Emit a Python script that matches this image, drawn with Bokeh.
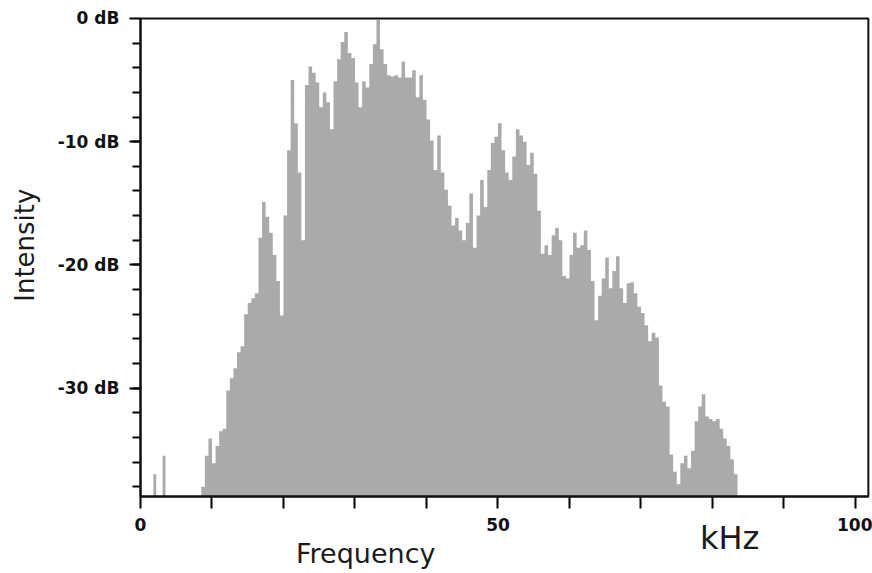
import numpy as np
from bokeh.plotting import figure
from bokeh.models import FixedTicker, Label, Range1d, BoxAnnotation
from bokeh.embed import file_html
from bokeh.resources import INLINE

# ---- data ----
spike_khz = [1.8, 3.1]          # left edge of isolated low-frequency bins
spike_db = [-37.0, -35.5]

spectrum_start_khz = 8.5        # left edge of first bin of the main spectrum
bin_khz = 0.5
spectrum_db = [
    -38.0, -35.5, -34.1, -36.1, -34.7, -33.5, -33.3, -30.2, -29.2, -28.4,
    -27.1, -26.6, -24.0, -23.1, -22.7, -22.3, -17.8, -14.9, -16.1, -17.4,
    -19.2, -21.3, -24.1, -16.0, -10.7, -5.0, -8.5, -12.5, -18.0, -5.4,
    -3.9, -4.4, -5.2, -7.2, -6.0, -6.8, -9.0, -5.1, -3.3, -1.9,
    -1.1, -2.8, -3.2, -5.2, -7.2, -5.1, -5.6, -3.7, -2.1, -0.1,
    -2.5, -3.7, -4.6, -4.7, -4.6, -4.8, -3.5, -4.8, -4.8, -4.2,
    -6.4, -4.6, -6.6, -8.2, -9.9, -12.3, -9.5, -12.5, -13.9, -15.2,
    -16.8, -16.2, -17.2, -18.0, -16.6, -14.2, -18.6, -16.0, -13.1, -15.3,
    -12.3, -10.1, -9.6, -8.5, -10.7, -12.5, -13.1, -11.2, -9.0, -9.5,
    -10.0, -11.9, -10.9, -12.6, -15.6, -19.1, -18.4, -19.2, -17.6, -17.0,
    -18.0, -20.9, -21.1, -19.2, -17.4, -18.6, -18.4, -17.2, -18.8, -21.3,
    -24.5, -22.5, -21.1, -19.4, -21.9, -20.5, -19.3, -21.9, -23.1, -21.5,
    -21.4, -22.3, -23.4, -23.9, -24.9, -26.2, -25.5, -25.9, -29.8, -31.1,
    -31.5, -35.4, -36.8, -37.8, -36.1, -35.5, -36.5, -35.1, -32.7, -31.5,
    -30.5, -32.3, -32.5, -32.7, -32.5, -33.3, -34.1, -34.7, -35.8, -37.0,
]

y_ticks = [0, -10, -20, -30]
y_tick_labels = ["0 dB", "-10 dB", "-20 dB", "-30 dB"]
y_minor_ticks = list(range(-38, 0, 2))
x_ticks = list(range(0, 101, 10))
x_tick_labels = {0: "0", 50: "50", 100: "100"}

# plotting box (kHz, dB) and the canvas extent around it
BOX_X = (0.0, 101.8)
BOX_Y = (-38.8, 0.0)
VIEW_X = (-19.58, 102.38)
VIEW_Y = (-45.05, 1.46)

GRAY = "#aaaaaa"
FONT = "DejaVu Sans"

p = figure(width=872, height=573,
           x_range=Range1d(*VIEW_X), y_range=Range1d(*VIEW_Y),
           output_backend="svg", toolbar_location=None, min_border=0)
p.xgrid.visible = False
p.ygrid.visible = False
p.background_fill_color = "white"
p.border_fill_color = "white"
p.outline_line_color = None

FLOOR = BOX_Y[0]

# main spectrum as a stepped area built from the bins
n = len(spectrum_db)
edges = spectrum_start_khz + bin_khz * np.arange(n + 1)
px = [edges[0]]
py = [FLOOR]
for i in range(n):
    px += [edges[i], edges[i + 1]]
    py += [spectrum_db[i], spectrum_db[i]]
px.append(edges[-1])
py.append(FLOOR)
p.patch(px, py, fill_color=GRAY, line_color=None)

p.quad(left=spike_khz, right=[k + 0.4 for k in spike_khz],
       bottom=FLOOR, top=spike_db, fill_color=GRAY, line_color=None)

# frame border (top & right sides; left & bottom are the axes)
p.add_layout(BoxAnnotation(left=BOX_X[0], right=BOX_X[1],
                           bottom=BOX_Y[0], top=BOX_Y[1],
                           fill_alpha=0, line_color="#111111",
                           line_alpha=1.0, line_width=2))

# axes placed on the box edges
for ax in (p.xaxis[0], p.yaxis[0]):
    ax.axis_line_width = 2
    ax.axis_line_color = "black"
    ax.major_tick_line_width = 2
    ax.major_tick_line_color = "black"
    ax.major_tick_in = 0
    ax.major_label_text_font = FONT
    ax.major_label_text_font_style = "bold"
    ax.major_label_text_font_size = "17px"
    ax.major_label_text_color = "#111111"
    ax.major_label_standoff = 10

p.yaxis.fixed_location = BOX_X[0]
p.yaxis.bounds = BOX_Y
p.yaxis.ticker = FixedTicker(ticks=y_ticks, minor_ticks=y_minor_ticks)
p.yaxis.major_label_overrides = dict(zip(y_ticks, y_tick_labels))
p.yaxis.major_tick_out = 11
p.yaxis.minor_tick_out = 8
p.yaxis.minor_tick_in = 0
p.yaxis.minor_tick_line_width = 2
p.yaxis.minor_tick_line_color = "black"

p.xaxis.fixed_location = BOX_Y[0]
p.xaxis.bounds = BOX_X
p.xaxis.ticker = FixedTicker(ticks=x_ticks)
p.xaxis.major_label_overrides = {t: x_tick_labels.get(t, "") for t in x_ticks}
p.xaxis.major_tick_out = 12
p.xaxis.minor_tick_out = 0
p.xaxis.major_label_standoff = 9

# axis titles
p.add_layout(Label(x=31.5, y=-43.4, text="Frequency", text_align="center",
                   text_baseline="alphabetic", text_font=FONT,
                   text_font_size="27px", text_color="#1a1a1a"))
p.add_layout(Label(x=82.4, y=-42.2, text="kHz", text_align="center",
                   text_baseline="alphabetic", text_font=FONT,
                   text_font_size="32px", text_color="#1a1a1a"))
p.add_layout(Label(x=-16.1, y=-18.4, text="Intensity", angle=np.pi / 2,
                   text_align="center", text_baseline="middle", text_font=FONT,
                   text_font_size="26px", text_color="#1a1a1a"))

open("out.html", "w").write(file_html(p, INLINE))
